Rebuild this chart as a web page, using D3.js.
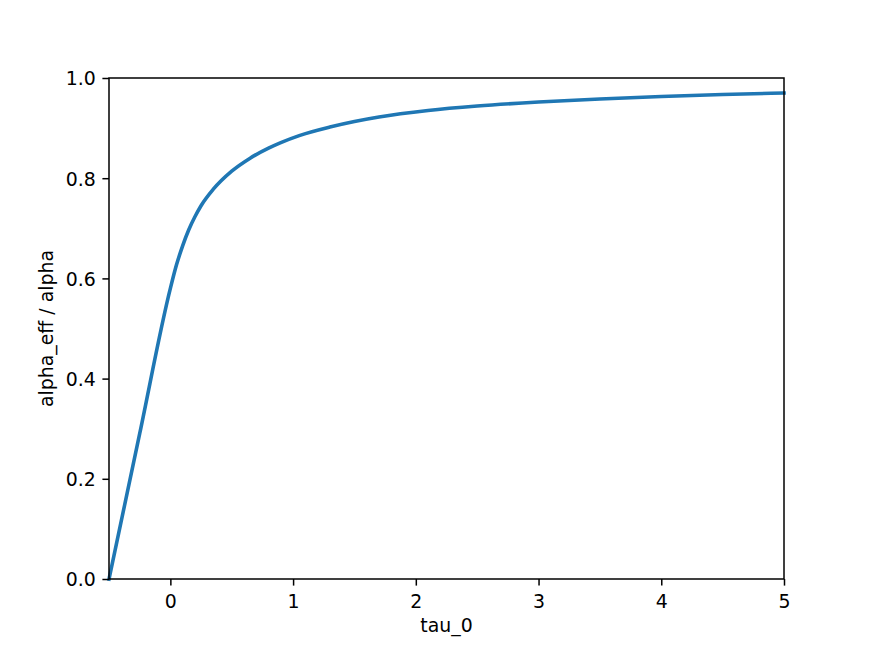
<!DOCTYPE html>
<html>
<head>
<meta charset="utf-8">
<script src="https://cdn.jsdelivr.net/npm/d3@7"></script>
<style>
  body { margin: 0; background: #fff; }
  svg text { font-family: "DejaVu Sans", sans-serif; font-size: 18.9px; fill: #000; }
</style>
</head>
<body>
<div id="canvas"></div>
<script>
// values
let tau = [-0.5, -0.25, 0, 0.05, 0.1, 0.15, 0.2, 0.25, 0.35, 0.5, 0.65, 0.8, 0.9,
  1.05, 1.3, 1.5, 1.7, 2.1, 2.5, 3.0, 3.5, 4.0, 4.5, 5.0]
let ratio = [0, 0.29, 0.58, 0.627, 0.665, 0.697, 0.723, 0.745, 0.778, 0.814, 0.84, 0.86, 0.871,
  0.885, 0.902, 0.913, 0.922, 0.935, 0.944, 0.952, 0.958, 0.963, 0.967, 0.97]
let xTicks = [0, 1, 2, 3, 4, 5]
let yTicks = [0, 0.2, 0.4, 0.6, 0.8, 1.0]

window.onload = function (){setup()}

function setup(){
  let width = 871, height = 651
  let left = 109, right = 784, top = 78, bottom = 579

  let svg = d3.select("#canvas")
    .append("svg")
    .attr("width", width)
    .attr("height", height)

  let x = d3.scaleLinear().domain([-0.5, 5]).range([left, right])
  let y = d3.scaleLinear().domain([0, 1]).range([bottom, top])

  // curve
  let pts = tau.map((t, i) => [t, ratio[i]])
  svg.append("path")
    .datum(pts)
    .attr("fill", "none")
    .attr("stroke", "#1f77b4")
    .attr("stroke-width", 3.6)
    .attr("stroke-linecap", "square")
    .attr("d", d3.line().x(d => x(d[0])).y(d => y(d[1])).curve(d3.curveMonotoneX))

  // axes
  let xAxis = svg.append("g")
    .attr("transform", `translate(0,${bottom})`)
    .call(d3.axisBottom(x).tickValues(xTicks).tickFormat(d3.format("d")).tickSize(6.6))
  let yAxis = svg.append("g")
    .attr("transform", `translate(${left},0)`)
    .call(d3.axisLeft(y).tickValues(yTicks).tickFormat(d3.format(".1f")).tickSize(6.6).tickPadding(6.6))

  ;[xAxis, yAxis].forEach(g => {
    g.select(".domain").remove()
    g.selectAll(".tick line").attr("stroke", "#000").attr("stroke-width", 1.5)
    g.selectAll(".tick text").attr("font-family", "DejaVu Sans").attr("font-size", 18.9).attr("fill", "#000")
  })
  xAxis.selectAll(".tick text").attr("y", 29).attr("dy", 0)
  yAxis.selectAll(".tick text").attr("dy", "0.36em")

  // frame
  svg.append("rect")
    .attr("x", left)
    .attr("y", top)
    .attr("width", right - left)
    .attr("height", bottom - top)
    .attr("fill", "none")
    .attr("stroke", "#000")
    .attr("stroke-width", 1.5)

  // labels
  svg.append("text")
    .attr("x", (left + right) / 2)
    .attr("y", 632)
    .attr("text-anchor", "middle")
    .text("tau_0")

  svg.append("text")
    .attr("transform", `translate(53,${(top + bottom) / 2}) rotate(-90)`)
    .attr("text-anchor", "middle")
    .text("alpha_eff / alpha")
}
</script>
</body>
</html>
